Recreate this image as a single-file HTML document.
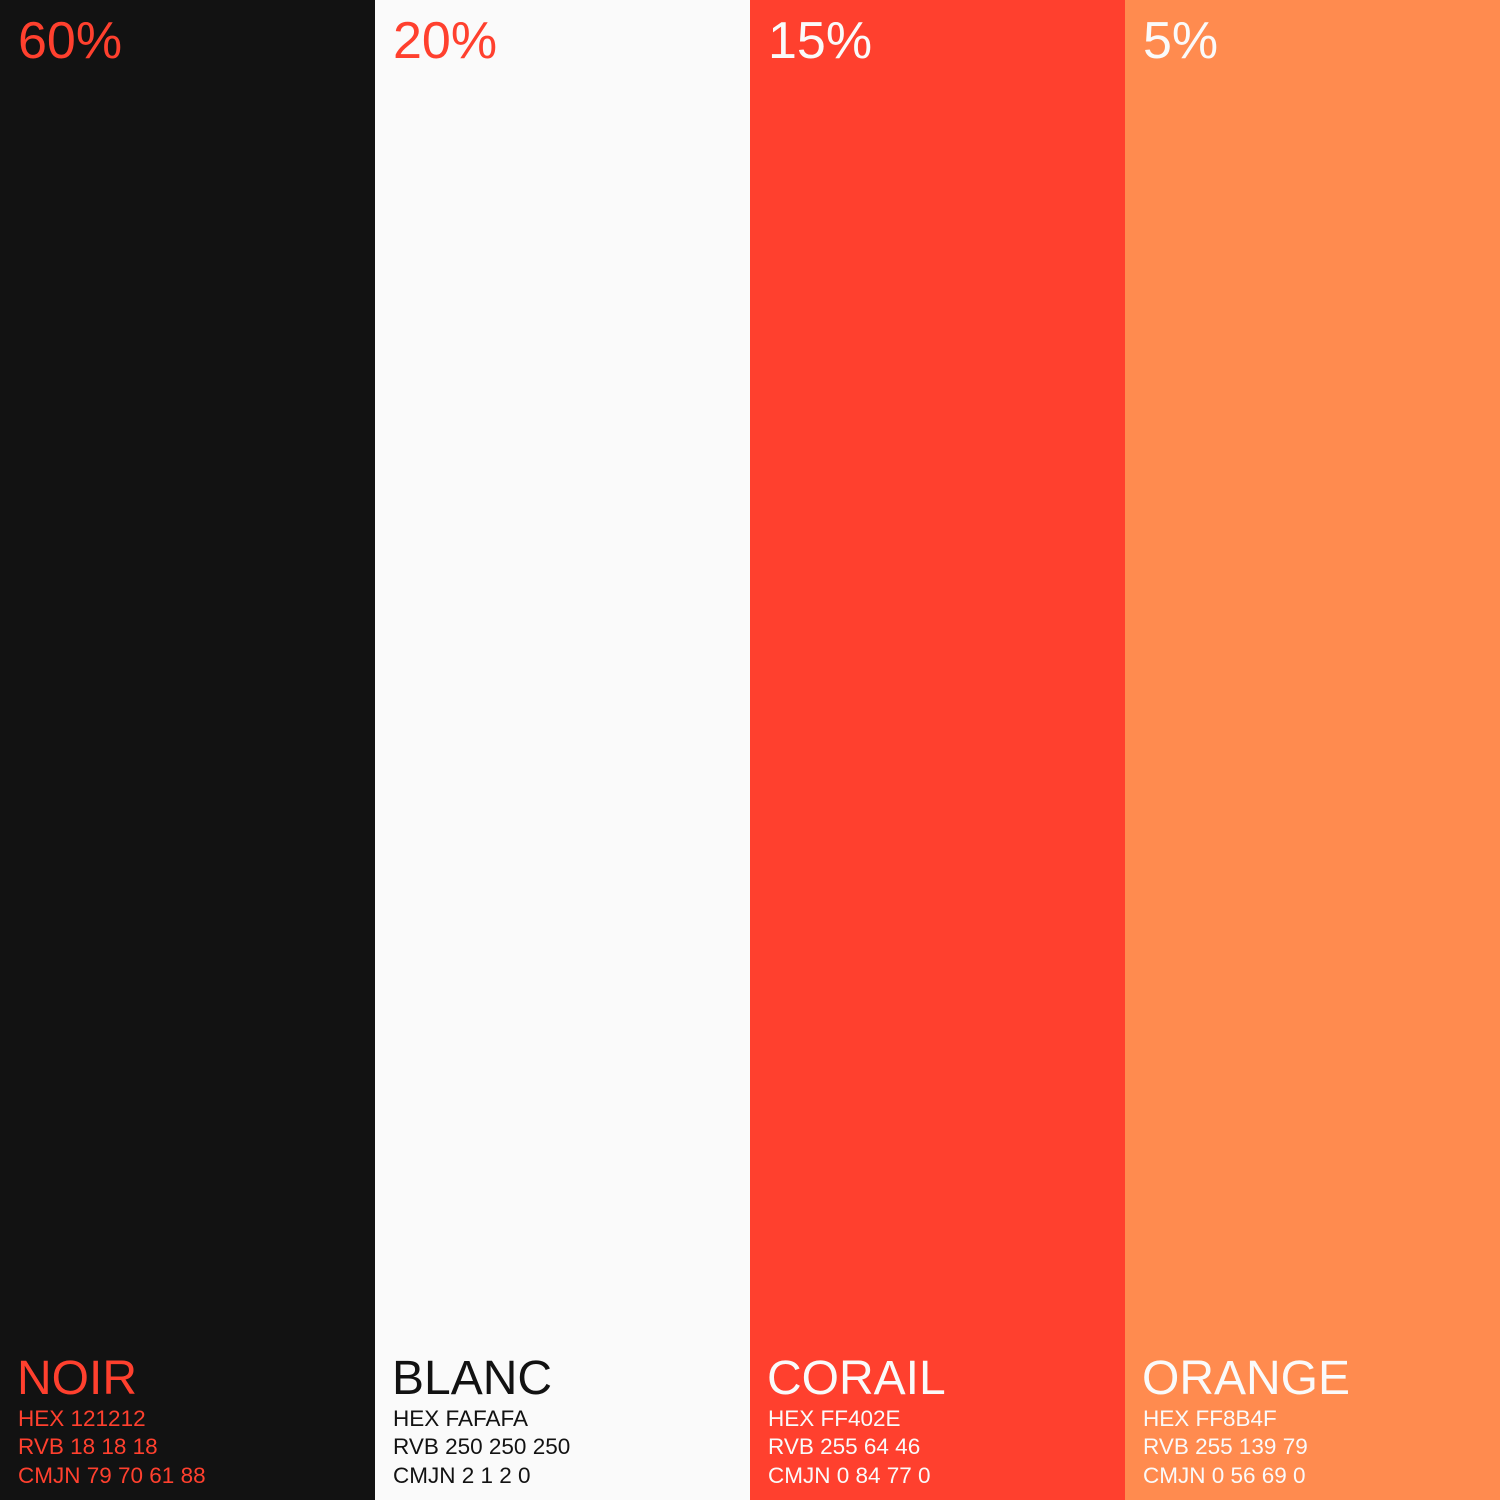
<!DOCTYPE html>
<html>
<head>
<meta charset="utf-8">
<style>
html,body{margin:0;padding:0;background:#fff;}
svg{display:block;}
text{font-family:"Liberation Sans",sans-serif;}
</style>
</head>
<body>
<svg id="chart" width="1500" height="1500" viewBox="0 0 1500 1500" xmlns="http://www.w3.org/2000/svg"></svg>
<script>
const names = ["NOIR","BLANC","CORAIL","ORANGE"];
const percents = ["60%","20%","15%","5%"];
const hexes = ["121212","FAFAFA","FF402E","FF8B4F"];
const rvb = ["18 18 18","250 250 250","255 64 46","255 139 79"];
const cmjn = ["79 70 61 88","2 1 2 0","0 84 77 0","0 56 69 0"];
const fills = ["#121212","#fafafa","#ff402e","#ff8b4f"];
const pctColors = ["#ff402e","#ff402e","#fafafa","#fafafa"];
const textColors = ["#ff402e","#121212","#fafafa","#fafafa"];

const svg = document.getElementById('chart');
const NS = "http://www.w3.org/2000/svg";
const colW = 1500 / names.length;
function xPos(i){ return i * colW; }

function addText(parent, x, y, size, color, str, name){
  const t = document.createElementNS(NS, 'text');
  t.setAttribute('x', x);
  t.setAttribute('y', y);
  t.setAttribute('font-size', size);
  t.setAttribute('fill', color);
  t.textContent = str;
  
  
  parent.appendChild(t);
}

names.forEach((n, i) => {
  const g = document.createElementNS(NS, 'g');
  
  
  const r = document.createElementNS(NS, 'rect');
  r.setAttribute('x', xPos(i));
  r.setAttribute('y', 0);
  r.setAttribute('width', colW);
  r.setAttribute('height', 1500);
  r.setAttribute('fill', fills[i]);
  
  
  g.appendChild(r);
  const lx = xPos(i) + 18;
  addText(g, lx, 58, 52, pctColors[i], percents[i], 'percent-label');
  addText(g, lx - 1, 1394, 48, textColors[i], n, 'color-name');
  addText(g, lx, 1426, 22.5, textColors[i], 'HEX ' + hexes[i], 'hex-value');
  addText(g, lx, 1454, 22.5, textColors[i], 'RVB ' + rvb[i], 'rvb-value');
  addText(g, lx, 1483, 22.5, textColors[i], 'CMJN ' + cmjn[i], 'cmjn-value');
  svg.appendChild(g);
});
</script>
</body>
</html>
